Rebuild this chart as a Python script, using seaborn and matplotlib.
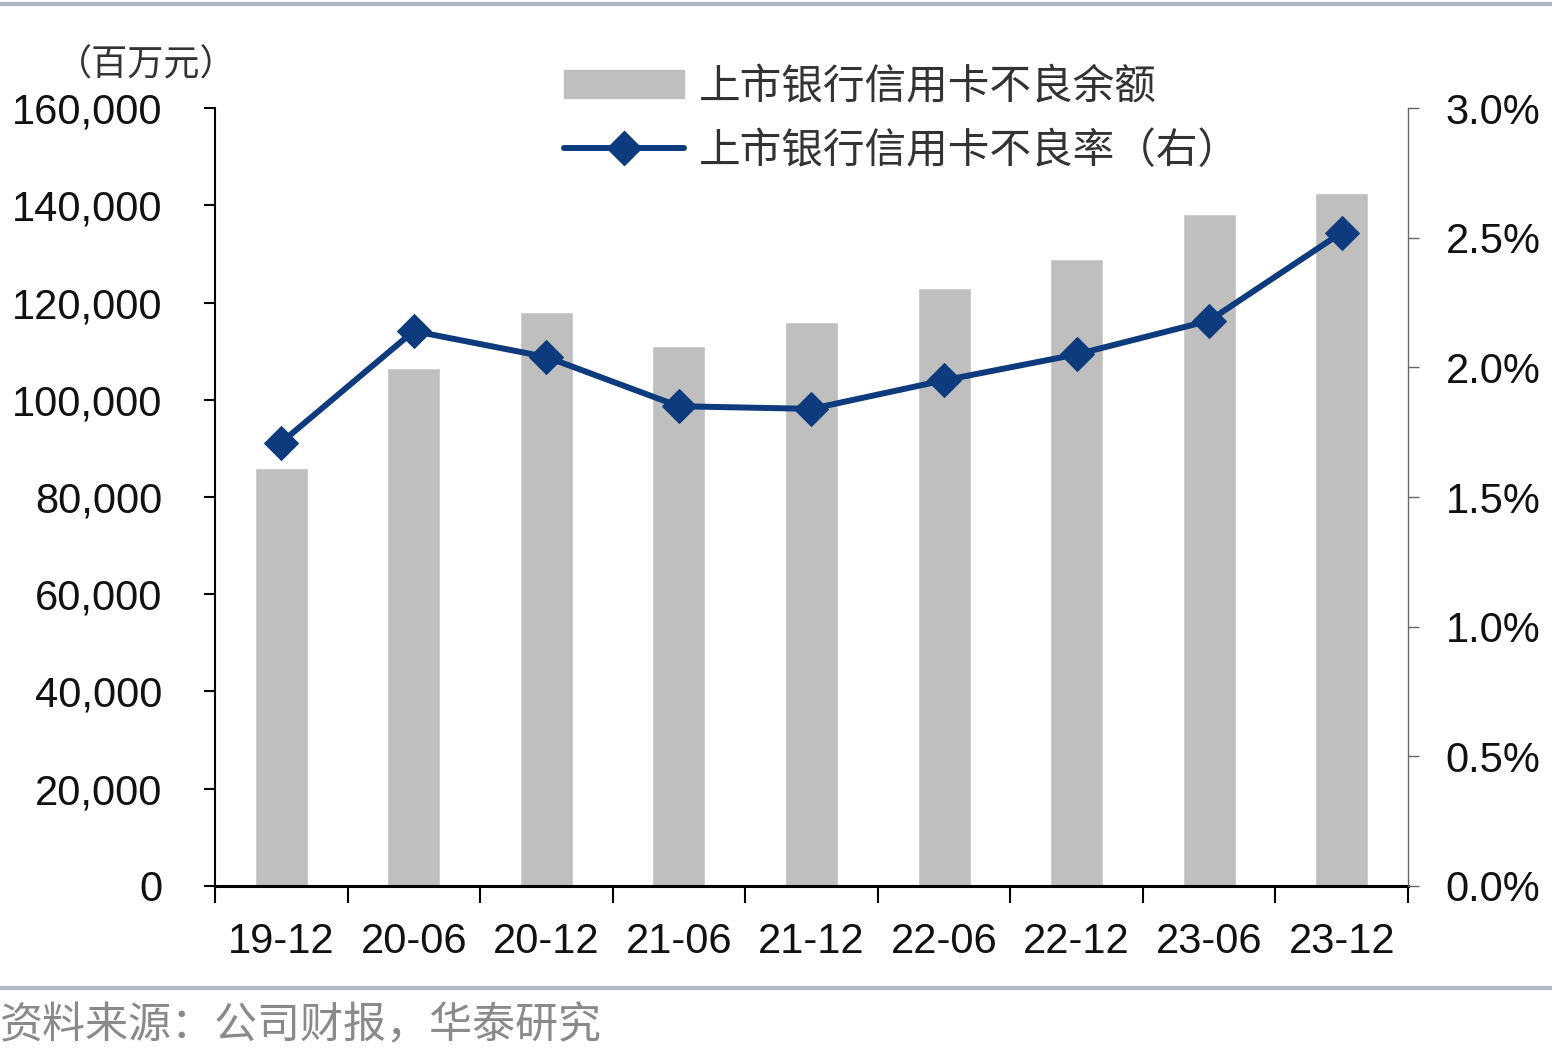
import numpy as np
import pandas as pd
import matplotlib
matplotlib.use("Agg")
import matplotlib.pyplot as plt
import seaborn as sns
from matplotlib.lines import Line2D
from matplotlib.ticker import FuncFormatter, MultipleLocator, FixedLocator

periods = ["19-12", "20-06", "20-12", "21-06", "21-12", "22-06", "22-12", "23-06", "23-12"]
npl_balance = [86000, 106500, 118000, 111000, 116000, 123000, 129000, 138200, 142500]
npl_ratio = [1.71, 2.14, 2.04, 1.85, 1.84, 1.95, 2.05, 2.18, 2.52]

bar_label = "上市银行信用卡不良余额"
line_label = "上市银行信用卡不良率（右）"
unit_label = "（百万元）"
source_label = "资料来源：公司财报，华泰研究"

sns.set_theme(style="white")
plt.rcParams["font.family"] = ["Liberation Sans", "Noto Sans CJK SC", "DejaVu Sans"]
cjk = ["Noto Sans CJK SC", "DejaVu Sans"]

bar_color = "#bfbfbf"
line_color = "#0d3b7d"

df = pd.DataFrame({"period": periods, "balance": npl_balance, "ratio": npl_ratio})
df["pos"] = np.arange(len(df))

fig = plt.figure(figsize=(15.52, 10.48), dpi=100)
ax = fig.add_axes([0.1385, 0.1546, 0.7687, 0.7423])

sns.barplot(data=df, x="period", y="balance", color=bar_color, width=0.4,
            saturation=1, ax=ax, zorder=2)
ax.set_xlim(-0.5, len(periods) - 0.5)
ax.set_ylim(0, 160000)
ax.yaxis.set_major_locator(MultipleLocator(20000))
ax.yaxis.set_major_formatter(FuncFormatter(lambda v, p: f"{int(v):,}"))
ax.set_xlabel("")
ax.set_ylabel("")

ax2 = ax.twinx()
sns.lineplot(data=df, x="pos", y="ratio", color=line_color, lw=4.3, marker="D",
             markersize=17, markeredgecolor=line_color, ax=ax2, zorder=3)
ax2.set_ylim(0, 3.0)
ax2.yaxis.set_major_locator(MultipleLocator(0.5))
ax2.yaxis.set_major_formatter(FuncFormatter(lambda v, p: f"{v:.1f}%"))
ax2.set_ylabel("")
ax2.set_xlabel("")
ax2.set_xlim(-0.5, len(periods) - 0.5)

for a in (ax, ax2):
    for s in a.spines.values():
        s.set_visible(False)

ax.spines["left"].set_visible(True)
ax.spines["left"].set_color("black")
ax.spines["left"].set_linewidth(1.5)
ax.spines["bottom"].set_visible(True)
ax.spines["bottom"].set_color("black")
ax.spines["bottom"].set_linewidth(2.2)
ax2.spines["right"].set_visible(True)
ax2.spines["right"].set_color("#666666")
ax2.spines["right"].set_linewidth(1.0)

ax.tick_params(axis="y", left=True, length=8, width=1.5, color="black",
               labelsize=30, pad=30, labelcolor="#111111")
ax2.tick_params(axis="y", right=True, length=8, width=1.0, color="#666666",
                labelsize=30, pad=19, labelcolor="#111111")

ax.xaxis.set_minor_locator(FixedLocator(np.arange(-0.5, len(periods), 1.0)))
ax.tick_params(axis="x", which="major", bottom=True, length=0, labelsize=30,
               pad=26, labelcolor="#111111")
ax.tick_params(axis="x", which="minor", bottom=True, length=12, width=1.5,
               color="black")
ax2.tick_params(axis="x", bottom=False, labelbottom=False)
ax.grid(False)
ax2.grid(False)

handles = [plt.Rectangle((0, 0), 1, 1, color=bar_color),
           Line2D([0], [0], color=line_color, lw=4.3, marker="D", markersize=17)]
fig.legend(handles, [bar_label, line_label], loc="upper left",
           bbox_to_anchor=(0.339, 0.972), frameon=False,
           prop={"family": cjk, "size": 30}, labelcolor="#333333",
           handlelength=2.9, handleheight=0.65, handletextpad=0.35, labelspacing=0.55)

fig.text(0.036, 0.938, unit_label, fontsize=26, family=cjk, color="#333333",
         ha="left", va="center")
fig.text(0.0, 0.021, source_label, fontsize=31, family=cjk, color="#8a8a8a",
         ha="left", va="center")

fig.add_artist(Line2D([0, 1], [0.9965, 0.9965], transform=fig.transFigure,
                      color="#aeb4be", lw=3))
fig.add_artist(Line2D([0, 1], [0.0575, 0.0575], transform=fig.transFigure,
                      color="#b4b8c0", lw=3))

fig.savefig("out.png", dpi=100, facecolor="white")
